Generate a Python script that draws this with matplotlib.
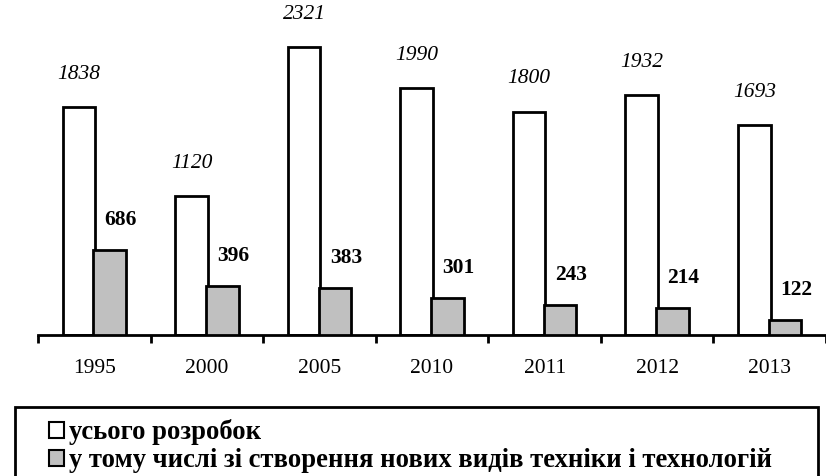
import matplotlib.pyplot as plt
from matplotlib.patches import Patch, Rectangle
import numpy as np

years = ['1995', '2000', '2005', '2010', '2011', '2012', '2013']
total = [1838, 1120, 2321, 1990, 1800, 1932, 1693]
new_tech = [686, 396, 383, 301, 243, 214, 122]
labels = ['усього розробок', 'у тому числі зі створення нових видів техніки і технологій']

plt.rcParams['font.family'] = ['Liberation Serif', 'DejaVu Serif']

fig = plt.figure(figsize=(8.26, 4.76), dpi=100)
ax = fig.add_axes([38 / 826, 141 / 476, 788 / 826, 335 / 476])

x = np.arange(len(years))
w = 0.29
ax.bar(x - 0.137, total, width=w, color='white', edgecolor='black', linewidth=2, zorder=2)
ax.bar(x + 0.137, new_tech, width=w, color='#c0c0c0', edgecolor='black', linewidth=2, zorder=3)

for i in range(len(years)):
    ax.annotate(str(total[i]), (x[i] - 0.137, total[i]), xytext=(0, 33), textcoords='offset pixels',
                ha='center', va='center', fontsize=15.5, style='italic')
    ax.annotate(str(new_tech[i]), (x[i] + 0.137, new_tech[i]), xytext=(11, 30), textcoords='offset pixels',
                ha='center', va='center', fontsize=15.5, fontweight='bold')

ax.set_xlim(-0.5, 6.465)
ax.set_ylim(0, 2702)
ax.set_yticks([])
for s in ['left', 'top', 'right']:
    ax.spines[s].set_visible(False)
ax.spines['bottom'].set_linewidth(2)

# ticks at group boundaries, labels at centres
ax.set_xticks(np.arange(-0.5, 7, 1))
ax.set_xticklabels([])
ax.tick_params(axis='x', which='major', length=6, width=2, direction='out')
ax.set_xticks(x, minor=True)
ax.set_xticklabels(years, minor=True, fontsize=15.5)
ax.tick_params(axis='x', which='minor', length=0, pad=17)

# legend frame (runs off the bottom of the picture)
fig.patches.append(Rectangle((15 / 826, -20 / 476), 803 / 826, 89 / 476, transform=fig.transFigure,
                             facecolor='none', edgecolor='black', linewidth=2, clip_on=False))

handles = [Patch(facecolor='white', edgecolor='black', linewidth=1.5),
           Patch(facecolor='#c0c0c0', edgecolor='black', linewidth=1.5)]
leg = fig.legend(handles, labels, loc='upper left', bbox_to_anchor=(49 / 826, 1 - 419 / 476),
                 frameon=False, prop={'size': 19.2, 'weight': 'bold'},
                 handlelength=0.55, handleheight=0.55, handletextpad=0.2, labelspacing=0.13,
                 borderpad=0, borderaxespad=0)

fig.savefig('out.png', dpi=100)
